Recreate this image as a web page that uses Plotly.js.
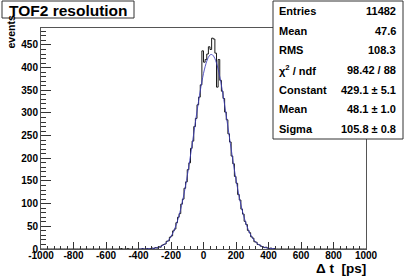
<!DOCTYPE html>
<html>
<head>
<meta charset="utf-8">
<script src="https://cdn.plot.ly/plotly-3.0.1.min.js"></script>
<style>html,body{margin:0;padding:0;background:#fff;}#chart{width:407px;height:277px;}</style>
</head>
<body>
<div id="chart"></div>
<script>
// ---- data ----
const binWidth = 10;
const firstBinLow = -510;
const counts = [
  1,0,0,0,1,0,0,0,0,0,0,
  0,0,1,0,0,1,0,1,2,1,
  3,2,5,4,8,10,11,17,18,26,
  29,40,44,58,70,78,99,110,134,148,
  175,190,222,238,270,288,318,335,362,437,
  412,418,430,446,440,465,463,432,357,418,
  372,348,332,302,285,254,236,205,188,160,
  145,120,108,88,77,61,54,41,36,27,
  24,16,15,10,9,6,5,3,4,2,
  1,2,0,1,0
];
const histMin = -1000;
const histMax = 1000;
const fitFirstX = -395;
const fitStep = 10;
const fitValues = [
  0.07,0.1,0.14,0.21,0.30,0.43,0.61,0.85,1.19,1.64,
  2.23,3.02,4.05,5.39,7.08,9.25,11.96,15.3,19.5,24.5,
  30.6,37.9,46.5,56.5,68.0,81.2,96.0,112.6,130.8,150.7,
  172.0,194.6,218.2,242.4,266.9,291.4,315.3,338.1,359.2,378.3,
  394.9,408.6,419.0,425.8,428.9,428.2,423.6,415.5,403.8,388.9,
  371.3,351.3,329.5,306.3,282.1,257.6,233.1,209.0,185.8,163.7,
  142.9,123.6,106.1,90.2,75.9,63.4,52.5,43.0,35.0,28.2,
  22.5,17.8,14.0,10.9,8.4,6.4,4.8,3.6,2.7,2.0,
  1.45,1.05,0.75,0.54,0.38
];
const xTickVals = [-1000,-800,-600,-400,-200,0,200,400,600,800,1000];
const xTickText = ['-1000','-800','-600','-400','-200','0','200','400','600','800','1000'];
const yTickVals = [0,50,100,150,200,250,300,350,400,450];
const yTickText = ['0','50','100','150','200','250','300','350','400','450'];
const statNames = ['Entries','Mean','RMS','\u03c7<sup>2</sup> / ndf','Constant','Mean','Sigma'];
const statValues = ['11482','47.6','108.3','98.42 / 88','429.1 \u00b1 5.1','48.1 \u00b1 1.0','105.8 \u00b1 0.8'];
const titleText = 'TOF2 resolution';
const xTitle = '\u0394 t  [ps]';
const yTitle = 'events';
const yMax = 487.4;

// ---- build histogram steps ----
const nBins = Math.round((histMax - histMin) / binWidth);
const full = new Array(nBins).fill(0);
counts.forEach((c, i) => {
  const idx = Math.round((firstBinLow - histMin) / binWidth) + i;
  if (idx >= 0 && idx < nBins) full[idx] = c;
});
const hx = [], hy = [];
for (let i = 0; i < nBins; i++) { hx.push(histMin + i * binWidth); hy.push(full[i]); }
hx.push(histMax); hy.push(full[nBins - 1]);

const fx = fitValues.map((_, i) => fitFirstX + i * fitStep);

// ---- geometry helpers (pixels -> paper) ----
const L = 41, R = 366, T = 28, B = 249;
const px = x => (x - L) / (R - L);
const py = y => (B - y) / (B - T);

const FONT = 'Liberation Sans, Arial, Helvetica, sans-serif';
const bold = (size) => ({family: FONT, size: size, color: '#000', weight: 'bold'});

const traces = [
  {x: hx, y: hy, type: 'scatter', mode: 'lines', line: {shape: 'hv', color: '#1a1a1a', width: 1}, hoverinfo: 'skip'},
  {x: fx, y: fitValues, type: 'scatter', mode: 'lines', line: {color: '#3a3ab8', width: 1, shape: 'spline'}, opacity: 0.85, hoverinfo: 'skip'}
];

// stats box
const sbL = 273, sbR = 403, sbT = 1, sbB = 139;
const rowH = (sbB - sbT) / statNames.length;
const annotations = [];
statNames.forEach((n, i) => {
  const yc = sbT + rowH * (i + 0.5);
  annotations.push({xref: 'paper', yref: 'paper', x: px(sbL + 4), y: py(yc), xanchor: 'left', yanchor: 'middle', text: n, showarrow: false, font: bold(11)});
  annotations.push({xref: 'paper', yref: 'paper', x: px(sbR - 5), y: py(yc), xanchor: 'right', yanchor: 'middle', text: statValues[i], showarrow: false, font: bold(11)});
});
// title
const tbL = 2, tbR = 134, tbT = 1, tbB = 18;
annotations.push({xref: 'paper', yref: 'paper', x: px((tbL + tbR) / 2), y: py((tbT + tbB) / 2 + 0.5), xanchor: 'center', yanchor: 'middle', text: titleText, showarrow: false, font: bold(15.5)});
// axis titles
annotations.push({xref: 'paper', yref: 'paper', x: px(367), y: py(276.5), xanchor: 'right', yanchor: 'bottom', borderpad: 0, text: xTitle, showarrow: false, font: bold(13.5)});
annotations.push({xref: 'paper', yref: 'paper', x: px(10), y: py(14), xanchor: 'center', yanchor: 'top', text: yTitle, textangle: -90, showarrow: false, font: bold(10.5)});

const shapes = [
  {type: 'rect', xref: 'paper', yref: 'paper', x0: px(sbL), x1: px(sbR), y0: py(sbB), y1: py(sbT), fillcolor: '#fff', line: {color: '#333', width: 1}, layer: 'above'},
  {type: 'rect', xref: 'paper', yref: 'paper', x0: px(tbL), x1: px(tbR), y0: py(tbB), y1: py(tbT), fillcolor: '#fff', line: {color: '#333', width: 1}, layer: 'above'}
];

const layout = {
  width: 407, height: 277,
  margin: {l: L, r: 407 - R, t: T, b: 277 - B, pad: 0},
  paper_bgcolor: '#fff', plot_bgcolor: '#fff',
  showlegend: false,
  xaxis: {
    range: [histMin, histMax], tickmode: 'array', tickvals: xTickVals, ticktext: xTickText,
    ticks: 'inside', ticklen: 7, tickwidth: 1, tickcolor: '#333', ticklabelstandoff: -3,
    showline: true, linecolor: '#555', linewidth: 1, mirror: true,
    showgrid: false, zeroline: false, tickfont: bold(10),
    minor: {dtick: 40, tick0: -1000, ticks: 'inside', ticklen: 3.5, tickcolor: '#333', showgrid: false}
  },
  yaxis: {
    range: [0, yMax], tickmode: 'array', tickvals: yTickVals, ticktext: yTickText,
    ticks: 'inside', ticklen: 10, tickwidth: 1, tickcolor: '#333',
    showline: true, linecolor: '#555', linewidth: 1, mirror: true,
    showgrid: false, zeroline: false, tickfont: bold(10),
    minor: {dtick: 10, tick0: 0, ticks: 'inside', ticklen: 5, tickcolor: '#333', showgrid: false}
  },
  annotations: annotations,
  shapes: shapes
};

Plotly.newPlot('chart', traces, layout, {staticPlot: true, displayModeBar: false});
</script>
</body>
</html>
